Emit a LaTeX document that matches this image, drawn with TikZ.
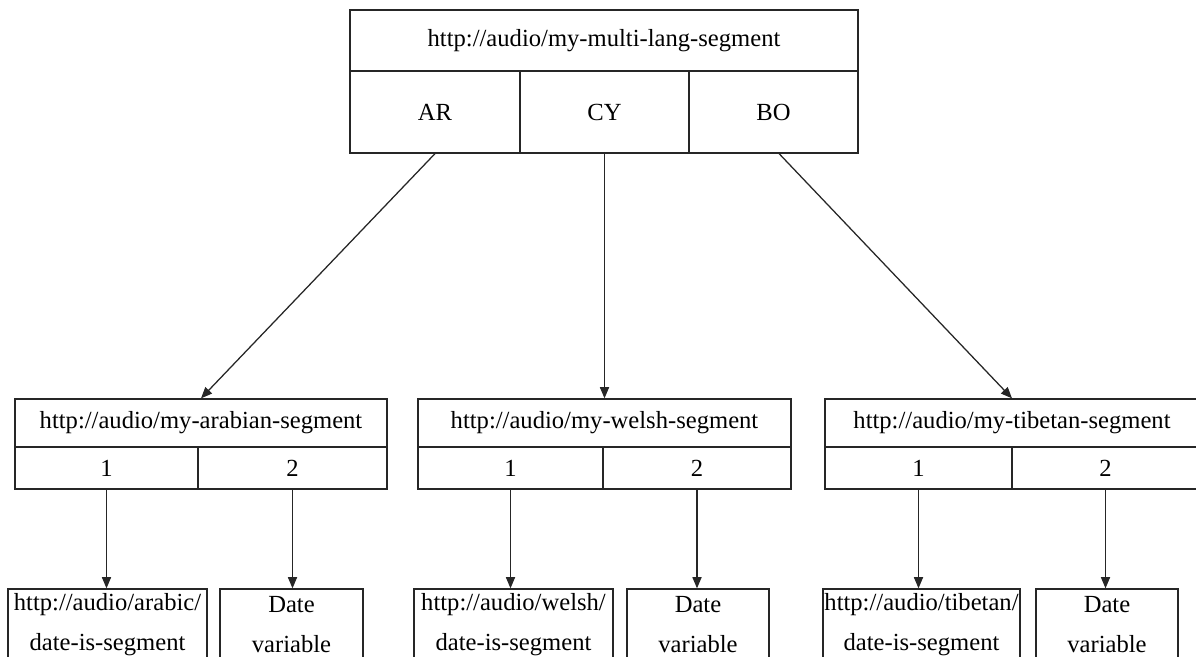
\documentclass[tikz,border=0pt]{standalone}
\usepackage{fontspec}
\setmainfont{Liberation Serif}
\usepackage{tikz}
\usetikzlibrary{arrows, arrows.meta}
\usetikzlibrary{positioning}
\usetikzlibrary{calc}

\begin{document}
\begin{tikzpicture}[x=0.025cm, y=-0.025cm,
	cell/.style={draw=black!85, line width=0.9pt, inner sep=0pt, font=\fontsize{17.5}{28.5}\selectfont, align=center},
	link/.style={-{Triangle[length=8pt,width=6.5pt]}, line width=0.9pt, draw=black!85}]
	\useasboundingbox (0,0) rectangle (1196,657);
	\newcommand\hHead{1.525cm}
	\newcommand\hLang{2.05cm}
	\newcommand\hSeg{1.2cm}
	\newcommand\hNum{1.05cm}
	\newcommand\hLeaf{1.8cm}
	% multi-language segment
	\node[cell, minimum width=12.7cm,  minimum height=\hHead] (nodeHead) at (604,40.5) {http://audio/my-multi-lang-segment};
	\node[cell, minimum width=4.25cm,  minimum height=\hLang] (nodeAR) at (435,112)   {AR};
	\node[cell, minimum width=4.225cm, minimum height=\hLang] (nodeCY) at (604.5,112) {CY};
	\node[cell, minimum width=4.225cm, minimum height=\hLang] (nodeBO) at (773.5,112) {BO};
	% arabic
	\node[cell, minimum width=9.3cm,   minimum height=\hSeg] (nodeAra)  at (201,423)   {http://audio/my-arabian-segment};
	\node[cell, minimum width=4.575cm, minimum height=\hNum] (nodeAra1) at (106.5,468) {1};
	\node[cell, minimum width=4.725cm, minimum height=\hNum] (nodeAra2) at (292.5,468) {2};
	\node[cell, minimum width=4.975cm, minimum height=\hLeaf] (nodeAraURL)  at (107.5,625) {http://audio/arabic/\\date-is-segment};
	\node[cell, minimum width=3.575cm, minimum height=\hLeaf] (nodeAraDate) at (291.5,625) {Date\\variable};
	% welsh
	\node[cell, minimum width=9.325cm, minimum height=\hSeg] (nodeWel)  at (604.5,423) {http://audio/my-welsh-segment};
	\node[cell, minimum width=4.625cm, minimum height=\hNum] (nodeWel1) at (510.5,468) {1};
	\node[cell, minimum width=4.7cm,   minimum height=\hNum] (nodeWel2) at (697,468)   {2};
	\node[cell, minimum width=4.975cm, minimum height=\hLeaf] (nodeWelURL)  at (513.5,625) {http://audio/welsh/\\date-is-segment};
	\node[cell, minimum width=3.55cm,  minimum height=\hLeaf] (nodeWelDate) at (698,625)   {Date\\variable};
	% tibetan
	\node[cell, minimum width=9.35cm,  minimum height=\hSeg] (nodeTib)  at (1012,423)   {http://audio/my-tibetan-segment};
	\node[cell, minimum width=4.675cm, minimum height=\hNum] (nodeTib1) at (918.5,468)  {1};
	\node[cell, minimum width=4.675cm, minimum height=\hNum] (nodeTib2) at (1105.5,468) {2};
	\node[cell, minimum width=4.925cm, minimum height=\hLeaf] (nodeTibURL)  at (921.5,625) {http://audio/tibetan/\\date-is-segment};
	\node[cell, minimum width=3.55cm,  minimum height=\hLeaf] (nodeTibDate) at (1107,625)  {Date\\variable};
	% links
	\draw[link] (nodeAR.south) -- (nodeAra.north);
	\draw[link] (nodeCY.south) -- (nodeWel.north);
	\draw[link] ([xshift=0.14cm]nodeBO.south) -- (nodeTib.north);
	\draw[link] (nodeAra1.south) -- (nodeAra1.south |- nodeAraURL.north);
	\draw[link] (nodeAra2.south) -- (nodeAra2.south |- nodeAraDate.north);
	\draw[link] (nodeWel1.south) -- (nodeWel1.south |- nodeWelURL.north);
	\draw[link] (nodeWel2.south) -- (nodeWel2.south |- nodeWelDate.north);
	\draw[link] (nodeTib1.south) -- (nodeTib1.south |- nodeTibURL.north);
	\draw[link] (nodeTib2.south) -- (nodeTib2.south |- nodeTibDate.north);
\end{tikzpicture}
\end{document}
